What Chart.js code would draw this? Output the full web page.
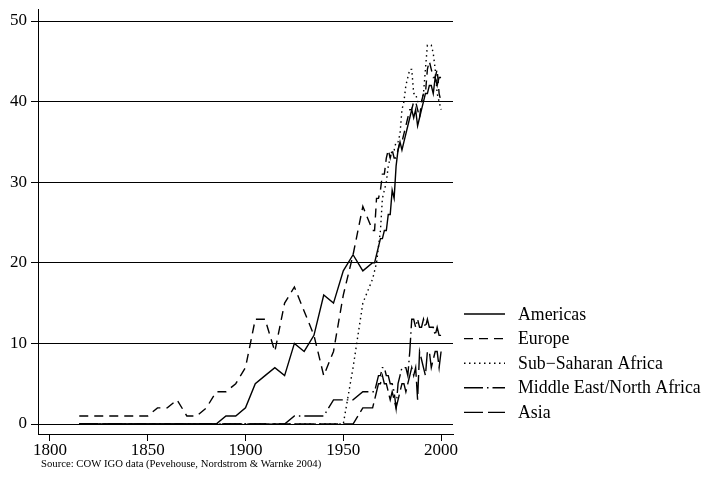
<!DOCTYPE html>
<html>
<head>
  <meta charset="utf-8">
  <title>Regional IGOs</title>
  <script src="https://cdn.jsdelivr.net/npm/chart.js"></script>
  <style>
    html, body {
      margin: 0;
      padding: 0;
      background: #fff;
    }
  </style>
</head>
<body>

<canvas id="igoChart" width="702" height="482"></canvas>

<script>
  // 5-year observations up to 1960, yearly after that
  const years = [
    1815, 1820, 1825, 1830, 1835, 1840, 1845, 1850, 1855, 1860,
    1865, 1870, 1875, 1880, 1885, 1890, 1895, 1900, 1905, 1910,
    1915, 1920, 1925, 1930, 1935, 1940, 1945, 1950, 1955, 1960,
    1965, 1966, 1967, 1968, 1969, 1970, 1971, 1972, 1973, 1974,
    1975, 1976, 1977, 1978, 1979, 1980, 1981, 1982, 1983, 1984,
    1985, 1986, 1987, 1988, 1989, 1990, 1991, 1992, 1993, 1994,
    1995, 1996, 1997, 1998, 1999, 2000
  ];

  const americas = [
    0, 0, 0, 0, 0, 0, 0, 0, 0, 0,
    0, 0, 0, 0, 0, 1, 1, 2, 5, 6,
    7, 6, 10, 9, 11, 16, 15, 19, 21, 19,
    20, 20, 21, 22, 23, 23, 24, 24, 26, 26,
    29, 28, 32, 34, 35, 34, 35, 36, 37, 38,
    39, 38, 39, 37, 38, 39, 40, 41, 41, 42,
    42, 41, 43, 42, 43, 43
  ];

  const europe = [
    1, 1, 1, 1, 1, 1, 1, 1, 2, 2,
    3, 1, 1, 2, 4, 4, 5, 7, 13, 13,
    9, 15, 17, 14, 11, 6, 9, 16, 21, 27,
    24, 24, 28, 28, 29, 31, 31, 33, 34, 33,
    34, 33, 33, 34, 35, 35, 36, 37, 38, 39,
    39, 40, 40, 39, 38, 40, 41, 41, 44, 45,
    44, 43, 43, 44, 41, 40
  ];

  const subSaharan = [
    0, 0, 0, 0, 0, 0, 0, 0, 0, 0,
    0, 0, 0, 0, 0, 0, 0, 0, 0, 0,
    0, 0, 0, 0, 0, 0, 0, 0, 7, 15,
    18, 19, 20, 22, 24, 28, 29, 30, 32, 33,
    34, 34, 35, 35, 36, 39, 40, 42, 43, 44,
    44, 41, 41, 40, 40, 40, 41, 44, 47, 47,
    47, 46, 44, 41, 40, 39
  ];

  const midEast = [
    0, 0, 0, 0, 0, 0, 0, 0, 0, 0,
    0, 0, 0, 0, 0, 0, 0, 0, 0, 0,
    0, 0, 1, 1, 1, 1, 3, 3, 3, 4,
    4, 4, 5, 6, 6, 7, 7, 6, 6, 5,
    5, 4, 2, 5, 6, 7, 7, 7, 6, 9,
    13, 13, 12, 13, 12, 12, 13, 12, 13, 12,
    12, 12, 11, 12, 11, 11
  ];

  const asia = [
    0, 0, 0, 0, 0, 0, 0, 0, 0, 0,
    0, 0, 0, 0, 0, 0, 0, 0, 0, 0,
    0, 0, 0, 0, 0, 0, 0, 0, 0, 2,
    2, 3, 4, 5, 5, 6, 5, 5, 4, 3,
    4, 3, 2, 3, 4, 5, 5, 4, 5, 6,
    7, 6, 7, 3, 9, 8, 7, 6, 9, 9,
    7, 8, 9, 9, 7, 9
  ];

  const xTicks = [1800, 1850, 1900, 1950, 2000];
  const yTicks = [0, 10, 20, 30, 40, 50];
  const regionNames = ['Americas', 'Europe', 'Sub\u2212Saharan Africa', 'Middle East/North Africa', 'Asia'];
  const sourceNote = 'Source: COW IGO data (Pevehouse, Nordstrom & Warnke 2004)';

  const serif = '"Liberation Serif", "Times New Roman", serif';

  function toPoints(vals) {
    return years.map((yr, i) => ({ x: yr, y: vals[i] }));
  }

  function lineSet(label, vals, dash) {
    return {
      label: label,
      data: toPoints(vals),
      borderColor: '#000',
      borderWidth: 1.4,
      borderDash: dash,
      borderCapStyle: 'butt',
      pointRadius: 0,
      tension: 0,
      fill: false
    };
  }

  // legend on the right + source note under the axis
  const sideLegend = {
    id: 'sideLegend',
    afterDraw(chart) {
      const ctx = chart.ctx;
      ctx.save();
      ctx.fillStyle = '#000';
      ctx.textBaseline = 'middle';
      chart.data.datasets.forEach((ds, i) => {
        const y = 314 + i * 24.6;
        ctx.beginPath();
        ctx.setLineDash(ds.borderDash);
        ctx.lineWidth = ds.borderWidth;
        ctx.strokeStyle = '#000';
        ctx.moveTo(464, y);
        ctx.lineTo(505, y);
        ctx.stroke();
        ctx.setLineDash([]);
        ctx.font = '17.8px ' + serif;
        ctx.fillText(ds.label, 518, y + 1);
      });
      ctx.font = '10.7px ' + serif;
      ctx.fillText(sourceNote, 41, 464);
      ctx.restore();
    }
  };

  const ctx = document.getElementById('igoChart').getContext('2d');
  new Chart(ctx, {
    type: 'line',
    data: {
      datasets: [
        lineSet(regionNames[0], americas, []),
        lineSet(regionNames[1], europe, [9, 6]),
        lineSet(regionNames[2], subSaharan, [1.5, 3.5]),
        lineSet(regionNames[3], midEast, [19, 4, 1.5, 4]),
        lineSet(regionNames[4], asia, [19, 5])
      ]
    },
    options: {
      responsive: false,
      animation: false,
      layout: {
        padding: { left: 0, top: 9, right: 249, bottom: 22 }
      },
      plugins: {
        legend: { display: false },
        tooltip: { enabled: false }
      },
      scales: {
        x: {
          type: 'linear',
          min: 1793.9,
          max: 2006.1,
          afterBuildTicks: scale => { scale.ticks = xTicks.map(v => ({ value: v })); },
          afterFit: scale => { scale.height = 26; },
          grid: {
            drawOnChartArea: false,
            drawTicks: true,
            tickLength: 7,
            tickColor: '#000'
          },
          border: { display: true, color: '#000', width: 1 },
          ticks: {
            color: '#000',
            padding: -1,
            maxRotation: 0,
            font: { family: serif, size: 17 },
            callback: v => String(v)
          }
        },
        y: {
          min: -1.24,
          max: 51.49,
          afterBuildTicks: scale => { scale.ticks = yTicks.map(v => ({ value: v })); },
          afterFit: scale => {
            scale.width = 38;
            scale.paddingTop = 0;
            scale.paddingBottom = 0;
          },
          grid: {
            color: '#000',
            lineWidth: 1,
            drawTicks: true,
            tickLength: 7,
            tickColor: '#000'
          },
          border: { display: true, color: '#000', width: 1 },
          ticks: {
            color: '#000',
            padding: 4,
            font: { family: serif, size: 17 },
            callback: v => String(v)
          }
        }
      }
    },
    plugins: [sideLegend]
  });
</script>

</body>
</html>
